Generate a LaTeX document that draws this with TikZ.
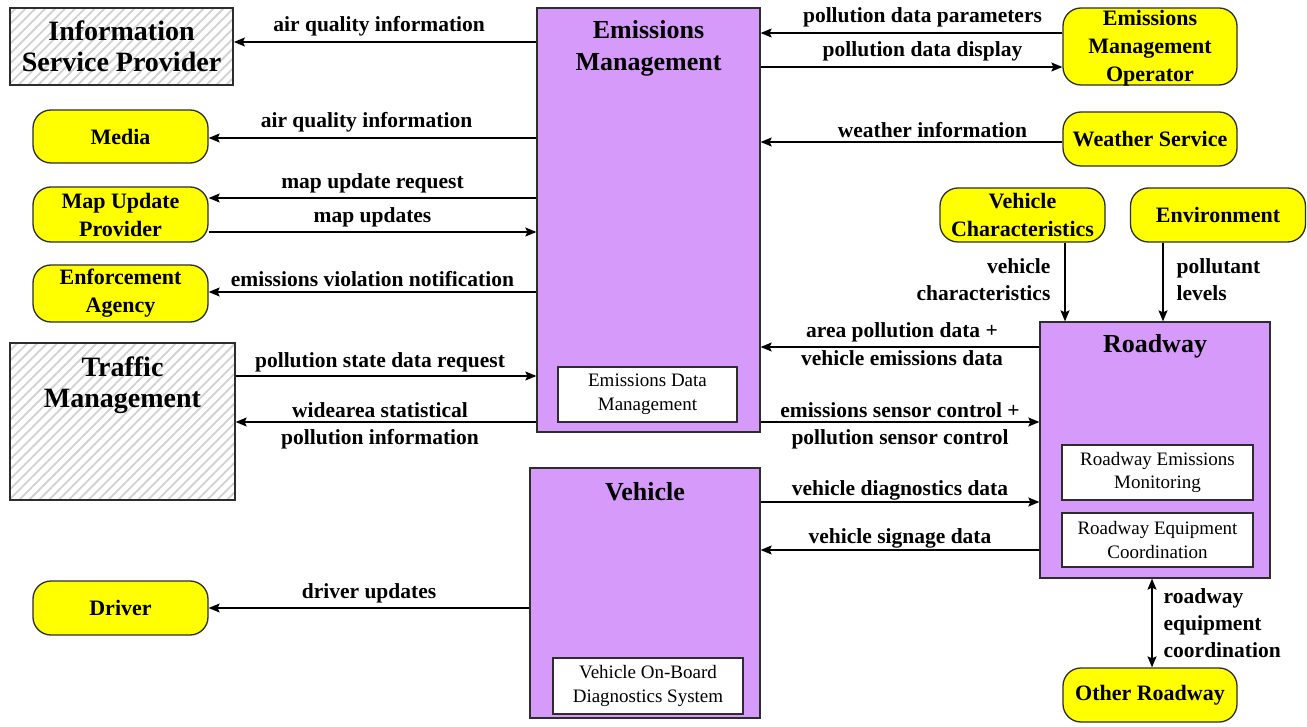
\documentclass[tikz,border=0pt]{standalone}
\usepackage{fontspec}
\setmainfont{Liberation Serif}
\usetikzlibrary{arrows.meta,patterns.meta}
\definecolor{pur}{RGB}{214,155,250}
\definecolor{yel}{RGB}{255,255,0}
\definecolor{edge}{RGB}{45,45,45}
\begin{document}
\begin{tikzpicture}[x=1pt,y=-1pt,
  box/.style={draw=edge, line width=1.3pt, inner sep=0pt, align=center},
  ext/.style={box, fill=yel, rounded corners=18pt, font=\bfseries\fontsize{22}{28}\selectfont},
  hatch/.style={box, pattern={Lines[angle=45,distance=7pt,line width=1.8pt]}, pattern color=black!18},
  sys/.style={box, fill=pur},
  inner/.style={box, fill=white, line width=1.1pt, font=\fontsize{19}{23.5}\selectfont},
  ttl/.style={inner sep=0pt, align=center, font=\bfseries\fontsize{26}{32}\selectfont},
  httl/.style={inner sep=0pt, align=center, font=\bfseries\fontsize{28}{31}\selectfont},
  lbl/.style={inner sep=0pt, align=center, font=\bfseries\fontsize{21.5}{27}\selectfont},
  arr/.style={line width=1.3pt, draw=black, -{Stealth[length=11pt,width=9pt,inset=2pt]}},
  darr/.style={line width=1.3pt, draw=black, {Stealth[length=11pt,width=9pt,inset=2pt]}-{Stealth[length=11pt,width=9pt,inset=2pt]}}
]
\fill[white] (0,0) rectangle (1307,727);
\useasboundingbox (0,0) rectangle (1307,727);

% hatched external systems
\node[hatch, minimum width=223pt, minimum height=77pt, httl] (isp) at (121.5,46.5) {Information\\Service Provider};
\node[hatch, minimum width=225pt, minimum height=157pt] (tm) at (122.5,421.5) {};
\node[httl] (tmt) at (122.5,385) {Traffic\\Management};

% subsystems
\node[sys, minimum width=223pt, minimum height=424pt] (em) at (648.5,220) {};
\node[ttl] (emt) at (648.5,48) {Emissions\\Management};
\node[inner, minimum width=179pt, minimum height=55pt] (edm) at (647.5,394.5) {Emissions Data\\Management};

\node[sys, minimum width=230pt, minimum height=250pt] (veh) at (645,593) {};
\node[ttl] (veht) at (645,492) {Vehicle};
\node[inner, minimum width=190pt, minimum height=56pt] (vobd) at (648,686) {Vehicle On-Board\\Diagnostics System};

\node[sys, minimum width=230pt, minimum height=256pt] (rw) at (1155,450) {};
\node[ttl] (rwt) at (1155,346) {Roadway};
\node[inner, minimum width=191pt, minimum height=55pt] (rem) at (1157.5,472.5) {Roadway Emissions\\Monitoring};
\node[inner, minimum width=191pt, minimum height=54pt] (rec) at (1157.5,540) {Roadway Equipment\\Coordination};

% terminators
\node[ext, minimum width=175pt, minimum height=53pt] (media) at (120.5,136.5) {Media};
\node[ext, minimum width=175pt, minimum height=55pt] (mup) at (120.5,214.5) {Map Update\\Provider};
\node[ext, minimum width=175pt, minimum height=57pt] (ea) at (120.5,293.5) {Enforcement\\Agency};
\node[ext, minimum width=175pt, minimum height=54pt] (drv) at (120.5,608) {Driver};
\node[ext, minimum width=174pt, minimum height=77pt, text depth=2pt] (emo) at (1150,46.5) {Emissions\\Management\\Operator};
\node[ext, minimum width=174pt, minimum height=54pt] (ws) at (1150,139) {Weather Service};
\node[ext, minimum width=165pt, minimum height=54pt] (vc) at (1022.5,215) {Vehicle\\Characteristics};
\node[ext, minimum width=175pt, minimum height=54pt] (env) at (1218,215) {Environment};
\node[ext, minimum width=174pt, minimum height=54pt] (orw) at (1150,695) {Other Roadway};

% flows left of Emissions Management
\draw[arr] (em.west |- 0,42) -- node[lbl, above=5pt, xshift=-6pt] {air quality information} (isp.east |- 0,42);
\draw[arr] (em.west |- 0,138) -- node[lbl, above=5pt, xshift=-6pt] {air quality information} (media.east |- 0,138);
\draw[arr] (em.west |- 0,198) -- node[lbl, above=4pt] {map update request} (mup.east |- 0,198);
\draw[arr] (mup.east |- 0,232) -- node[lbl, above=4pt] {map updates} (em.west |- 0,232);
\draw[arr] (em.west |- 0,292) -- node[lbl, above=5pt] {emissions violation notification} (ea.east |- 0,292);
\draw[arr] (tm.east |- 0,376) -- node[lbl, above=3pt, xshift=-6pt] {pollution state data request} (em.west |- 0,376);
\draw[arr] (em.west |- 0,422) -- node[lbl, above=4pt, xshift=-6pt] {widearea statistical} node[lbl, below=7pt, xshift=-6pt] {pollution information} (tm.east |- 0,422);

% flows right of Emissions Management
\draw[arr] (emo.west |- 0,33) -- node[lbl, above=5pt, xshift=11pt] {pollution data parameters} (em.east |- 0,33);
\draw[arr] (em.east |- 0,67) -- node[lbl, above=5pt, xshift=11pt] {pollution data display} (emo.west |- 0,67);
\draw[arr] (ws.west |- 0,142) -- node[lbl, above=4pt, xshift=21pt] {weather information} (em.east |- 0,142);
\draw[arr] (rw.west |- 0,347) -- node[lbl, above=4pt, xshift=2pt] {area pollution data +} node[lbl, below=3pt, xshift=2pt] {vehicle emissions data} (em.east |- 0,347);
\draw[arr] (em.east |- 0,422) -- node[lbl, above=4pt] {emissions sensor control +} node[lbl, below=7pt] {pollution sensor control} (rw.west |- 0,422);

% Vehicle flows
\draw[arr] (veh.east |- 0,502) -- node[lbl, above=1pt] {vehicle diagnostics data} (rw.west |- 0,502);
\draw[arr] (rw.west |- 0,550) -- node[lbl, above=1pt] {vehicle signage data} (veh.east |- 0,550);
\draw[arr] (veh.west |- 0,608) -- node[lbl, above=4pt] {driver updates} (drv.east |- 0,608);

% vertical flows
\draw[arr] (vc.south -| 1065,0) -- node[lbl, left=14pt, align=right, yshift=2pt] {vehicle\\characteristics} (rw.north -| 1065,0);
\draw[arr] (env.south -| 1163,0) -- node[lbl, right=13pt, align=left, yshift=2pt] {pollutant\\levels} (rw.north -| 1163,0);
\draw[darr] (rw.south -| 1152,0) -- node[lbl, right=11pt, align=left] {roadway\\equipment\\coordination} (orw.north -| 1152,0);
\end{tikzpicture}
\end{document}
